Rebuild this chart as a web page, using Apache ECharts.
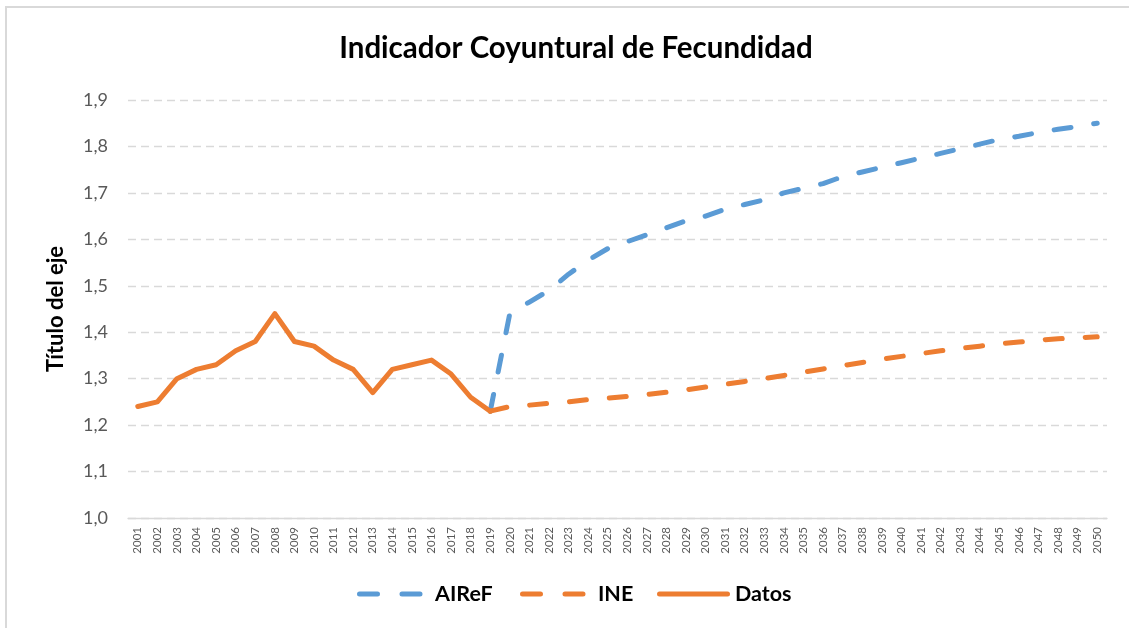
<!DOCTYPE html>
<html>
<head>
<meta charset="utf-8">
<script src="https://cdn.jsdelivr.net/npm/echarts@6/dist/echarts.min.js"></script>
<style>html,body{margin:0;padding:0;background:#fff;}#c{width:1129px;height:628px;}</style>
</head>
<body>
<div id="c"></div>
<script>
const years = [];
for (let y = 2001; y <= 2050; y++) years.push(String(y));

const datos = [1.24,1.25,1.30,1.32,1.33,1.36,1.38,1.44,1.38,1.37,1.34,1.32,1.27,1.32,1.33,1.34,1.31,1.26,1.23];

const aireF = [1.23,1.44,1.465,1.49,1.525,1.555,1.58,1.595,1.61,1.625,1.64,1.65,1.665,1.675,1.685,1.70,1.71,1.72,1.735,1.745,1.755,1.765,1.775,1.785,1.795,1.805,1.815,1.822,1.83,1.837,1.843,1.85];

const ine = [1.23,1.24,1.243,1.247,1.25,1.255,1.258,1.262,1.266,1.271,1.276,1.282,1.288,1.294,1.30,1.307,1.314,1.321,1.328,1.335,1.342,1.348,1.354,1.36,1.365,1.37,1.375,1.379,1.383,1.386,1.388,1.39];

const yTicks = {min: 1.0, max: 1.9, interval: 0.1};

function pad(vals, startYear) {
  const out = new Array(years.length).fill(null);
  const s = years.indexOf(startYear);
  vals.forEach((v, i) => { out[s + i] = v; });
  return out;
}

const BLUE = '#5B9BD5', ORANGE = '#ED7D31';
// legend icons (box 73 x 5)
const DASH_ICON = 'path://M2.5,0h18a2.5,2.5 0 0 1 0,5h-18a2.5,2.5 0 0 1 0,-5z M45,0h18a2.5,2.5 0 0 1 0,5h-18a2.5,2.5 0 0 1 0,-5z M0,0 M73,5';
const SOLID_ICON = 'path://M2.5,0h68a2.5,2.5 0 0 1 0,5h-68a2.5,2.5 0 0 1 0,-5z';
const legendText = {fontFamily: 'Lato', fontWeight: 'bold', fontSize: 21.5, color: '#000'};
function leg(name, left, icon) {
  return {bottom: 23, left: left, itemWidth: 73, itemHeight: 5, itemGap: 0, padding: 0,
    textStyle: legendText, data: [{name: name, icon: icon}]};
}

const chart = echarts.init(document.getElementById('c'), null, {renderer: 'canvas'});
chart.setOption({
  animation: false,
  backgroundColor: '#fff',
  title: {
    text: 'Indicador Coyuntural de Fecundidad',
    left: 571, top: 28, textAlign: 'center',
    textStyle: {fontFamily: 'Lato', fontWeight: 'bold', fontSize: 29.5, color: '#000'}
  },
  graphic: [{
    type: 'rect', shape: {x: 6, y: 7, width: 1300, height: 800},
    style: {fill: 'none', stroke: '#D9D9D9', lineWidth: 2}, silent: true
  }],
  legend: [leg('AIReF', 357, DASH_ICON), leg('INE', 520, DASH_ICON), leg('Datos', 657, SOLID_ICON)],
  grid: {left: 128, right: 22, top: 100, bottom: 110, containLabel: false},
  xAxis: {
    type: 'category', data: years, boundaryGap: true,
    axisLine: {lineStyle: {color: '#D9D9D9', width: 1.3}},
    axisTick: {show: false},
    axisLabel: {interval: 0, rotate: 90, fontSize: 11.5, color: '#595959', fontFamily: 'Lato', margin: 9}
  },
  yAxis: {
    type: 'value', min: yTicks.min, max: yTicks.max, interval: yTicks.interval,
    name: 'Título del eje', nameLocation: 'middle', nameRotate: 90, nameGap: 61,
    nameTextStyle: {fontFamily: 'Lato', fontWeight: 'bold', fontSize: 22, color: '#000'},
    axisLine: {show: false}, axisTick: {show: false},
    axisLabel: {fontSize: 18, color: '#595959', fontFamily: 'Lato', margin: 20,
      formatter: v => v.toFixed(1).replace('.', ',')},
    splitLine: {lineStyle: {color: '#D9D9D9', width: 1.3, type: [8, 5]}}
  },
  series: [
    {name: 'AIReF', type: 'line', data: pad(aireF, '2019'), symbol: 'none',
      color: BLUE, lineStyle: {color: BLUE, width: 5, type: [17, 23], cap: 'round', join: 'round'}},
    {name: 'INE', type: 'line', data: pad(ine, '2019'), symbol: 'none',
      color: ORANGE, lineStyle: {color: ORANGE, width: 5, type: [17, 23], cap: 'round', join: 'round'}},
    {name: 'Datos', type: 'line', data: pad(datos, '2001'), symbol: 'none', z: 3,
      color: ORANGE, lineStyle: {color: ORANGE, width: 5, type: 'solid', cap: 'round', join: 'round'}}
  ]
});
</script>
</body>
</html>
